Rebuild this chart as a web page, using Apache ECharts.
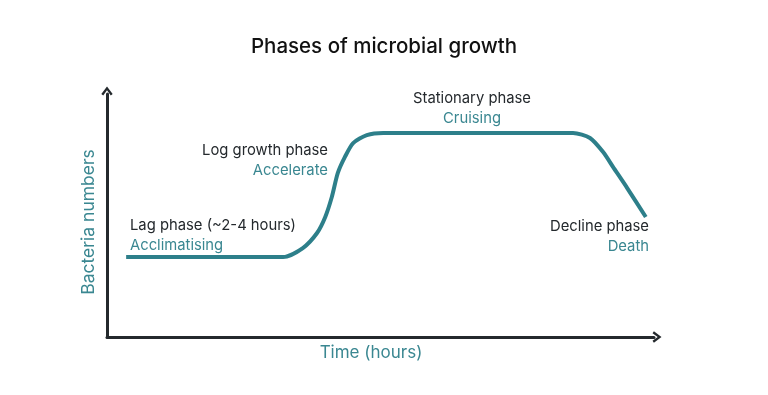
<!DOCTYPE html>
<html>
<head>
<meta charset="utf-8">
<script src="https://cdn.jsdelivr.net/npm/echarts@6/dist/echarts.min.js"></script>
<style>html,body{margin:0;padding:0;background:#fff}#c{width:768px;height:395px}</style>
</head>
<body>
<div id="c"></div>
<script>
// Time (arbitrary units, 0-100) and bacteria numbers (arbitrary units, 0-100)
const timeValues = [3.5, 32.2, 35.8, 38.4, 39.9, 41.1, 42.2, 43.5, 45.0, 47.5, 50.5, 85.2, 88.3, 90.7, 92.5, 95.1, 98.5];
const bacteriaValues = [32.9, 32.9, 36.6, 42.8, 49.4, 57.6, 67.5, 74.1, 79.8, 83.1, 84.0, 84.0, 81.9, 76.1, 70.0, 61.3, 49.4];
const phaseNames = ['Lag phase (~2-4 hours)', 'Log growth phase', 'Stationary phase', 'Decline phase'];
const phaseDescriptions = ['Acclimatising', 'Accelerate', 'Cruising', 'Death'];
const chartTitle = 'Phases of microbial growth';
const xAxisName = 'Time (hours)';
const yAxisName = 'Bacteria numbers';

const TEAL = '#2d7f8a';
const TEAL_TEXT = '#3a8791';
const DARK = '#24292d';
const FONT = 'Inter';

const chart = echarts.init(document.getElementById('c'), null, {renderer: 'canvas'});
const chevronUp = 'path://M0,8 L6,0 L12,8 L10,9.5 L6,4 L2,9.5 Z';

const labelPos = [
  {x: 130, y: 226, align: 'left'},
  {x: 328, y: 151, align: 'right'},
  {x: 472, y: 99, align: 'center'},
  {x: 649, y: 227, align: 'right'}
];
const graphics = [];
phaseNames.forEach((n, i) => {
  const p = labelPos[i];
  graphics.push({type: 'text', x: p.x, y: p.y,
    style: {text: n, fill: DARK, font: '400 14.8px "' + FONT + '"', textAlign: p.align, textVerticalAlign: 'middle'}});
  graphics.push({type: 'text', x: p.x, y: p.y + 20,
    style: {text: phaseDescriptions[i], fill: TEAL_TEXT, font: '400 14.8px "' + FONT + '"', textAlign: p.align, textVerticalAlign: 'middle'}});
});
graphics.push({type: 'text', x: 371, y: 353,
  style: {text: xAxisName, fill: TEAL_TEXT, font: '400 17px "' + FONT + '"', textAlign: 'center', textVerticalAlign: 'middle'}});
graphics.push({type: 'text', x: 89, y: 222, rotation: Math.PI / 2,
  style: {text: yAxisName, fill: TEAL_TEXT, font: '400 17.5px "' + FONT + '"', textAlign: 'center', textVerticalAlign: 'middle'}});

chart.setOption({
  animation: false,
  backgroundColor: '#fff',
  title: {text: chartTitle, left: 'center', top: 31,
    textStyle: {fontFamily: FONT, fontSize: 20.5, fontWeight: 500, color: '#111'}},
  grid: {left: 107, right: 114, top: 94, bottom: 58, containLabel: false},
  xAxis: {type: 'value', min: 0, max: 100,
    axisLine: {show: true, onZero: false, symbol: ['none', chevronUp], symbolSize: [12, 9], symbolOffset: [0, 3],
      lineStyle: {color: DARK, width: 3}},
    axisTick: {show: false}, axisLabel: {show: false}, splitLine: {show: false}},
  yAxis: {type: 'value', min: 0, max: 100,
    axisLine: {show: true, onZero: false, symbol: ['none', chevronUp], symbolSize: [12, 9], symbolOffset: [0, 3],
      lineStyle: {color: DARK, width: 3}},
    axisTick: {show: false}, axisLabel: {show: false}, splitLine: {show: false}},
  series: [{
    type: 'line',
    data: timeValues.map((t, i) => [t, bacteriaValues[i]]),
    smooth: 0.25,
    showSymbol: false,
    lineStyle: {color: TEAL, width: 4, cap: 'butt'}
  }],
  graphic: graphics
});
</script>
</body>
</html>
